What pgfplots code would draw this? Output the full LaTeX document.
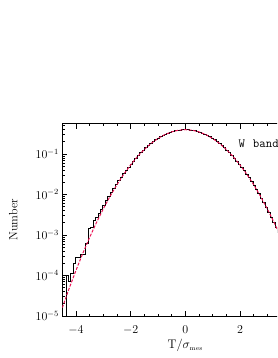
\RequirePackage{fix-cm}
\documentclass[border=0pt]{standalone}
\usepackage{fontspec}
\usepackage{pgfplots}
\pgfplotsset{compat=1.18}
\definecolor{fitred}{RGB}{235,20,85}
\begin{document}
\begin{tikzpicture}
\useasboundingbox (0,0) rectangle (277pt,358pt);
\clip (0,0) rectangle (277pt,358pt);
\begin{axis}[
  at={(62.3pt,42pt)}, anchor=south west,
  scale only axis, width=246pt, height=192.3pt,
  xmin=-4.5, xmax=4.5, ymode=log, ymin=1e-5, ymax=0.56,
  xtick={-4,-2,0,2,4}, xticklabels={$-4$,$-2$,$0$,$2$,{}}, minor x tick num=3,
  major tick length=5pt, minor tick length=2.5pt,
  tick align=inside,
  axis line style={line width=0.9pt},
  every tick/.style={black, line width=0.7pt},
  tick label style={font=\fontsize{12}{14}\selectfont},
  xticklabel style={yshift=-6pt},
  xlabel={$\mathrm{T}/\sigma_{\scriptscriptstyle\mathrm{mes}}$},
  ylabel={Number},
  every axis x label/.style={at={(rel axis cs:0.5,0)}, anchor=base, yshift=-32.3pt, font=\fontsize{12.5}{14}\selectfont},
  every axis y label/.style={at={([xshift=-49pt]rel axis cs:0,0.5)}, rotate=90, anchor=center, font=\fontsize{12}{14}\selectfont\addfontfeatures{LetterSpace=15}},
]
\addplot[const plot, black, line width=0.85pt] coordinates {
(-4.5,1e-7)
(-4.365,1.0e-4) (-4.275,7.2e-5) (-4.185,1.1e-4) (-4.095,2.0e-4) (-4.005,2.75e-4)
(-3.915,2.75e-4) (-3.825,3.4e-4) (-3.735,3.3e-4) (-3.645,6.3e-4) (-3.555,1.45e-3)
(-3.465,1.5e-3) (-3.375,2.3e-3) (-3.285,2.7e-3) (-3.195,3.5e-3) (-3.105,4.2e-3)
(-3.015,5.5e-3) (-2.925,7.0e-3) (-2.835,9.0e-3) (-2.745,1.13e-2) (-2.655,1.42e-2)
(-2.565,1.77e-2) (-2.475,2.19e-2) (-2.385,2.69e-2) (-2.295,3.28e-2) (-2.205,3.97e-2)
(-2.115,4.76e-2) (-2.025,0.0568) (-1.935,0.0673) (-1.845,0.0793) (-1.755,0.0926)
(-1.665,0.1074) (-1.575,0.1238) (-1.485,0.1415) (-1.395,0.1604) (-1.305,0.1804)
(-1.215,0.2012) (-1.125,0.2227) (-1.035,0.2444) (-0.945,0.2661) (-0.855,0.2874)
(-0.765,0.3079) (-0.675,0.3271) (-0.585,0.3448) (-0.495,0.3605) (-0.405,0.3739)
(-0.315,0.3847) (-0.225,0.3925) (-0.135,0.3973) (-0.045,0.3989) (0.045,0.3973)
(0.135,0.3925) (0.225,0.3847) (0.315,0.3739) (0.405,0.3605) (0.495,0.3448)
(0.585,0.3271) (0.675,0.3079) (0.765,0.2874) (0.855,0.2661) (0.945,0.2444)
(1.035,0.2227) (1.125,0.2012) (1.215,0.1804) (1.305,0.1604) (1.395,0.1415)
(1.485,0.1238) (1.575,0.1074) (1.665,0.0925) (1.755,0.0790) (1.845,0.0669)
(1.935,0.0562) (2.025,0.0468) (2.115,0.0387) (2.205,0.0317) (2.295,0.0258)
(2.385,0.0208) (2.475,0.01667) (2.565,0.01323) (2.655,0.01042) (2.745,0.00814)
(2.835,0.00631) (2.925,0.00485) (3.015,0.00370) (3.105,0.00279) (3.195,0.00210)
(3.285,0.00156) (3.375,0.00115) (3.465,0.00084) (3.555,0.00061) (3.645,0.00044)
(3.735,0.00031) (3.825,0.00022) (3.915,0.00016) (4.005,0.00011) (4.095,0.000076)
(4.185,0.000052) (4.275,0.000035) (4.365,0.000024) (4.455,0.000024)
};
\addplot[fitred, line width=1pt, dash pattern=on 3pt off 1.5pt] coordinates {
(-4.5,1.598e-5) (-4.25,4.772e-5) (-4.0,1.3383e-4) (-3.75,3.526e-4) (-3.5,8.727e-4)
(-3.25,2.029e-3) (-3.0,4.432e-3) (-2.75,9.093e-3) (-2.5,1.753e-2) (-2.25,3.174e-2)
(-2.0,5.399e-2) (-1.75,8.628e-2) (-1.5,0.12952) (-1.25,0.18265) (-1.0,0.24197)
(-0.75,0.30114) (-0.5,0.35207) (-0.25,0.38667) (0,0.39894) (0.25,0.38667)
(0.5,0.35207) (0.75,0.30114) (1.0,0.24197) (1.25,0.18265) (1.5,0.12952)
(1.75,8.628e-2) (2.0,5.399e-2) (2.25,3.174e-2) (2.5,1.753e-2) (2.75,9.093e-3)
(3.0,4.432e-3) (3.25,2.029e-3) (3.5,8.727e-4) (3.75,3.526e-4) (4.0,1.3383e-4)
(4.25,4.772e-5) (4.5,1.598e-5)
};
\node[anchor=base west, inner sep=0pt, font=\fontsize{12.5}{14}\selectfont\ttfamily] at (axis cs:1.94,0.146) {W\hspace*{8pt}band};
\end{axis}
\end{tikzpicture}
\end{document}
